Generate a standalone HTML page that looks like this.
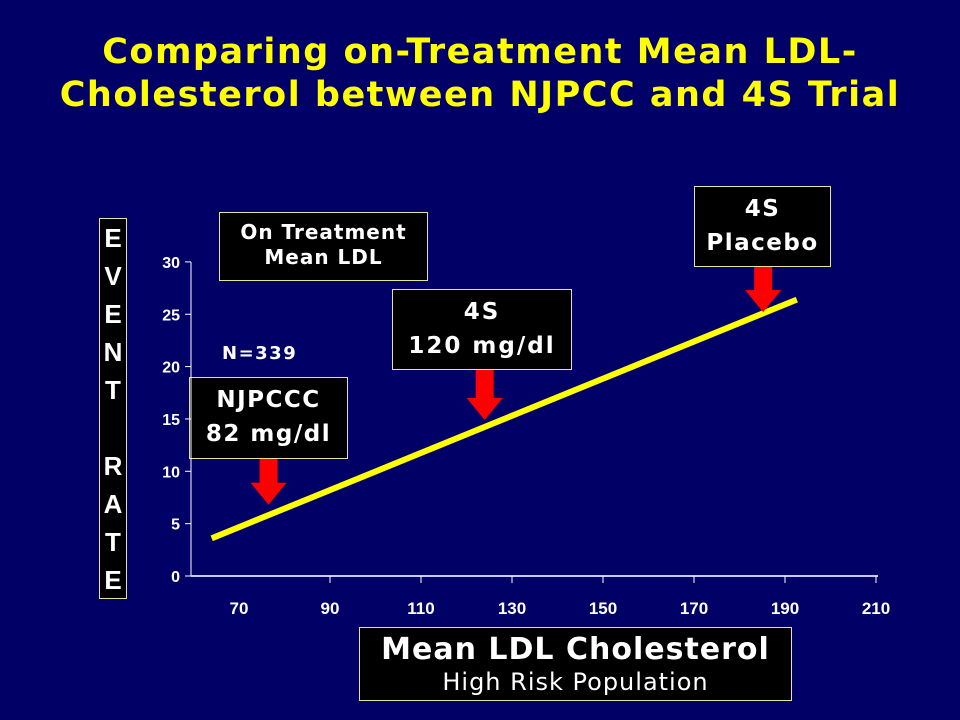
<!DOCTYPE html>
<html><head><meta charset="utf-8"><style>
body{margin:0;background:#000066;}
#wrap{position:relative;width:960px;height:720px;background:#000066;overflow:hidden;font-family:"DejaVu Sans","Liberation Sans",sans-serif;}
.title{position:absolute;left:0;width:960px;text-align:center;color:#ffff00;font-weight:bold;font-size:35px;letter-spacing:1.5px;line-height:42px;white-space:nowrap;}
.box{position:absolute;background:#000;border:1px solid #e8e0a0;color:#fff;font-weight:bold;text-align:center;box-sizing:border-box;white-space:nowrap;}
</style></head><body>
<div id="wrap">
<div class="title" style="top:31px">Comparing on-Treatment Mean LDL-</div>
<div class="title" style="top:74px">Cholesterol between NJPCC and 4S Trial</div>
<div class="box" style="left:99px;top:218px;width:28px;height:381px;font-family:'Liberation Sans',sans-serif;font-size:26px;line-height:38px;padding-top:0px;">E<br>V<br>E<br>N<br>T<br><br>R<br>A<br>T<br>E</div>
<div class="box" style="left:219px;top:212px;width:209px;height:69px;font-size:20px;letter-spacing:1px;line-height:25px;padding-top:7px;">On Treatment<br>Mean LDL</div>
<div style="position:absolute;left:222px;top:343px;color:#fff;font-weight:bold;font-size:18px;letter-spacing:1.5px;">N=339</div>
<div class="box" style="left:189px;top:377px;width:159px;height:82px;font-size:23px;letter-spacing:1.5px;line-height:34px;padding-top:5px;">NJPCCC<br>82 mg/dl</div>
<div class="box" style="left:392px;top:289px;width:180px;height:81px;font-size:23px;letter-spacing:2px;line-height:34px;padding-top:5px;">4S<br>120 mg/dl</div>
<div class="box" style="left:694px;top:186px;width:137px;height:81px;font-size:23px;letter-spacing:1.5px;line-height:34px;padding-top:5px;">4S<br>Placebo</div>
<div class="box" style="left:359px;top:627px;width:433px;height:74px;padding-top:4px;"><div style="font-size:30px;letter-spacing:1px;line-height:36px;">Mean LDL Cholesterol</div><div style="font-size:24px;letter-spacing:1px;line-height:28px;font-weight:normal;">High Risk Population</div></div>
<svg id="chart" width="960" height="720" style="position:absolute;left:0;top:0"></svg>
</div>
<script>
const yTicks=[0,5,10,15,20,25,30];
const xTicks=[70,90,110,130,150,170,190,210];
const lineX=[64,192.6];
const lineY=[3.6,26.4];
const arrowX=[76.5,124,185.2];
const arrowTipY=[6.8,14.9,25.2];
const arrowTop=[459,370,267];
const NS='http://www.w3.org/2000/svg';
const svg=document.getElementById('chart');
function xs(v){return 330+(v-90)*4.55;}
function ys(v){return 576-v*10.47;}
function mk(t,a){const e=document.createElementNS(NS,t);for(const k in a)e.setAttribute(k,a[k]);svg.appendChild(e);return e;}
let e=mk('line',{x1:191,y1:ys(0),x2:191,y2:ys(30),stroke:'#fff','stroke-width':1});


e=mk('line',{x1:191,y1:ys(0),x2:878,y2:ys(0),stroke:'#c8c8ff','stroke-width':2});


yTicks.forEach(v=>{
  const l=mk('line',{x1:185,y1:ys(v),x2:191,y2:ys(v),stroke:'#fff'});
  
  
  const t=mk('text',{x:180,y:ys(v)+6,fill:'#fff','font-size':16,'font-weight':'bold','text-anchor':'end','font-family':'Liberation Sans, sans-serif'});
  t.textContent=v;
  
  
});
xTicks.forEach(v=>{
  if(v>=90){const l=mk('line',{x1:xs(v),y1:ys(0),x2:xs(v),y2:ys(0)+7,stroke:'#fff'});
  
  }
  const t=mk('text',{x:xs(v),y:614,fill:'#fff','font-size':17,'font-weight':'bold','text-anchor':'middle','font-family':'Liberation Sans, sans-serif'});
  t.textContent=v;
  
  
});
e=mk('line',{x1:xs(lineX[0]),y1:ys(lineY[0]),x2:xs(lineX[1]),y2:ys(lineY[1]),stroke:'#ffff00','stroke-width':6});


arrowX.forEach((v,i)=>{
  const x=xs(v),tip=ys(arrowTipY[i]),top=arrowTop[i];
  const p=mk('polygon',{points:`${x-9},${top} ${x+9},${top} ${x+9},${tip-22} ${x+18},${tip-22} ${x},${tip} ${x-18},${tip-22} ${x-9},${tip-22}`,fill:'#ff0000'});
  
  
});
</script>
</body></html>
